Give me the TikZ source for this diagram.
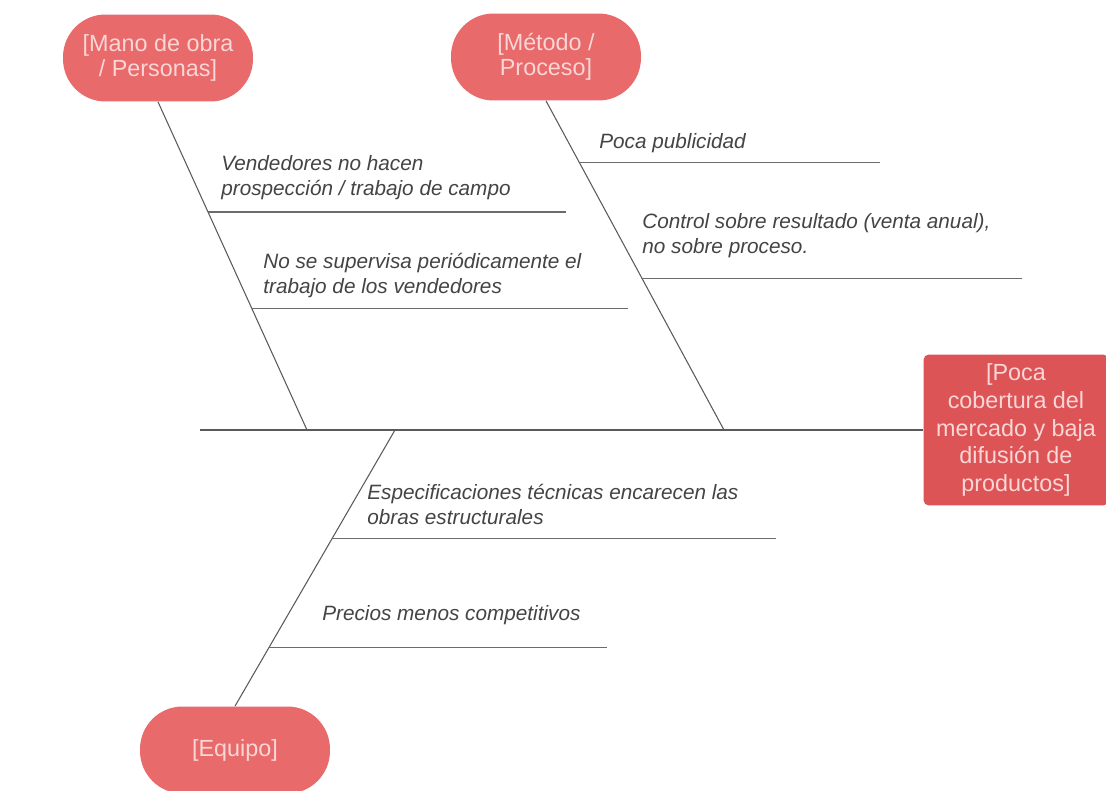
\documentclass[tikz,border=0pt]{standalone}
\usepackage{fontspec}
\setmainfont{Liberation Sans}
\usetikzlibrary{positioning}
\definecolor{causered}{RGB}{232,106,107}
\definecolor{effectred}{RGB}{221,84,86}
\definecolor{nodetext}{RGB}{250,214,214}
\definecolor{bonegray}{RGB}{90,90,90}
\definecolor{labelgray}{RGB}{68,68,68}

\begin{document}
\begin{tikzpicture}[x=0.02cm, y=-0.02cm,
    causa/.style={rectangle, fill=causered, text=nodetext, minimum width=3.8cm, minimum height=1.74cm, rounded corners=0.85cm, align=center, font=\fontsize{13.3}{13.9}\selectfont},
    efecto/.style={rectangle, fill=effectred, text=nodetext, minimum width=3.7cm, minimum height=3.02cm, rounded corners=3pt, align=center, font=\fontsize{13.3}{15.9}\selectfont},
    hueso/.style={draw=bonegray, line width=0.6pt},
    espina/.style={draw=bonegray!90, line width=0.7pt},
    causita/.style={anchor=base west, inner sep=0pt, align=left, text=labelgray, font=\fontsize{11.8}{14}\selectfont\itshape}]
    \path[use as bounding box, fill=white] (0,0) rectangle (1106,791);

    % Main causes and effect
    \node[causa] (mano) at (158,58) {[Mano de obra\\/ Personas]};
    \node[causa] (metodo) at (546,57) {[Método /\\Proceso]};
    \node[causa] (equipo) at (235,750) {[Equipo]};
    \node[efecto] (efecto) at (1016,430) {[Poca\\cobertura del\\mercado y baja\\difusión de\\productos]};

    % Spine
    \coordinate (cola) at (200,430);
    \draw[hueso] (cola) -- (efecto.west);

    % Bones
    \coordinate (m1) at (307,430);
    \coordinate (m2) at (724,430);
    \coordinate (m3) at (395,430);
    \draw[hueso] (mano.south) -- (m1) coordinate[pos=.336] (v1) coordinate[pos=.629] (v2);
    \draw[hueso] (metodo.south) -- (m2) coordinate[pos=.187] (p1) coordinate[pos=.539] (p2);
    \draw[hueso] (equipo.north) -- (m3) coordinate[pos=.213] (e2) coordinate[pos=.606] (e1);

    % Sub-causes: Mano de obra
    \coordinate (v1e) at (566,212);
    \coordinate (v2e) at (628,308);
    \draw[espina] (v1) -- (v1 -| v1e);
    \draw[espina] (v2) -- (v2 -| v2e);
    \node[causita] (vend) at (221,195) {Vendedores no hacen\\prospección / trabajo de campo};
    \node[causita] (super) at (263,293) {No se supervisa periódicamente el\\trabajo de los vendedores};

    % Sub-causes: Método
    \coordinate (p1e) at (880,162);
    \coordinate (p2e) at (1022,278);
    \draw[espina] (p1) -- (p1 -| p1e);
    \draw[espina] (p2) -- (p2 -| p2e);
    \node[causita] (publi) at (599,148) {Poca publicidad};
    \node[causita] (control) at (642,253) {Control sobre resultado (venta anual),\\no sobre proceso.};

    % Sub-causes: Equipo
    \coordinate (e1e) at (776,539);
    \coordinate (e2e) at (607,648);
    \draw[espina] (e1) -- (e1 -| e1e);
    \draw[espina] (e2) -- (e2 -| e2e);
    \node[causita] (espec) at (367,524) {Especificaciones técnicas encarecen las\\obras estructurales};
    \node[causita] (precio) at (322,620) {Precios menos competitivos};
\end{tikzpicture}
\end{document}
